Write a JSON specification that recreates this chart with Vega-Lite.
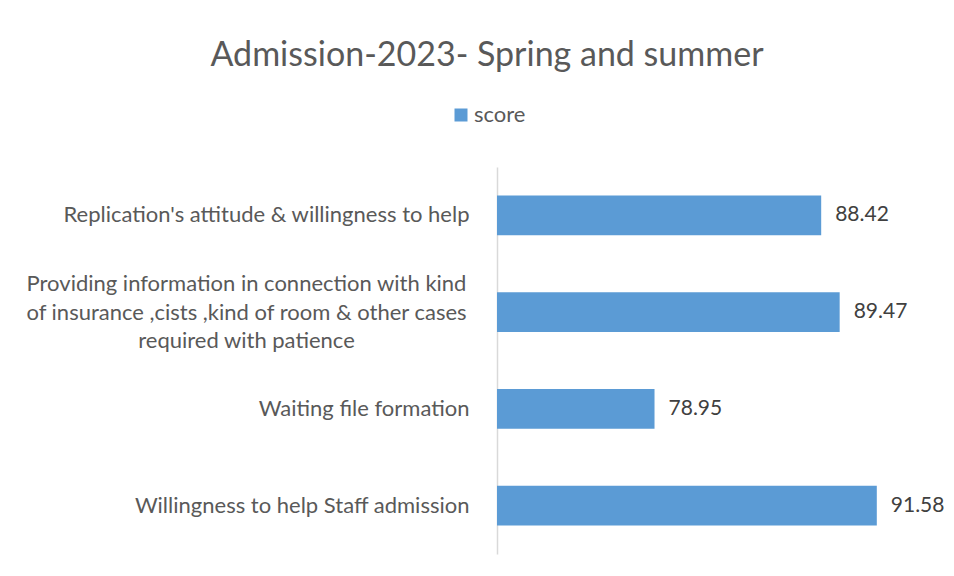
{
  "$schema": "https://vega.github.io/schema/vega-lite/v6.json",
  "width": 440,
  "height": 387,
  "autosize": {"type": "none"},
  "padding": {"left": 497, "top": 167, "right": 17, "bottom": 22},
  "background": "white",
  "title": {
    "text": "Admission-2023- Spring and summer",
    "font": "Lato",
    "fontSize": 34,
    "fontWeight": "normal",
    "color": "#595959",
    "anchor": "middle",
    "frame": "group",
    "dx": -230,
    "offset": 31
  },
  "data": {
    "values": [
      {"item": "Replication's attitude & willingness to help", "series": "score", "score": 88.42},
      {"item": "Providing information in connection with kind\nof insurance ,cists ,kind of room & other cases\nrequired with patience", "series": "score", "score": 89.47},
      {"item": "Waiting file formation", "series": "score", "score": 78.95},
      {"item": "Willingness to help Staff admission", "series": "score", "score": 91.58}
    ]
  },
  "encoding": {
    "y": {
      "field": "item",
      "type": "nominal",
      "sort": null,
      "scale": {"paddingInner": 0.59, "paddingOuter": 0.295},
      "axis": {
        "title": null,
        "ticks": false,
        "domainColor": "#d9d9d9",
        "domainWidth": 1.5,
        "labelFont": "Lato",
        "labelFontSize": 22,
        "labelColor": "#595959",
        "labelLimit": 600,
        "labelLineHeight": 28.5,
        "labelExpr": "split(datum.label, '\\n')",
        "labelAlign": {"condition": {"test": "indexof(datum.value, '\\n') >= 0", "value": "center"}, "value": "right"},
        "labelPadding": {"condition": {"test": "indexof(datum.value, '\\n') >= 0", "value": 251}, "value": 28},
        "labelOffset": {"condition": {"test": "indexof(datum.value, '\\n') >= 0", "value": -28}, "value": 0}
      }
    },
    "x": {
      "field": "score",
      "type": "quantitative",
      "scale": {"domain": [70, 95], "zero": false},
      "axis": null
    }
  },
  "layer": [
    {
      "mark": {"type": "bar", "clip": true},
      "encoding": {
        "color": {
          "field": "series",
          "type": "nominal",
          "scale": {"range": ["#5b9bd5"]},
          "legend": {
            "title": null,
            "orient": "none",
            "legendX": -47,
            "legendY": -63,
            "symbolType": "square",
            "symbolSize": 169,
            "symbolStrokeWidth": 0,
            "labelFont": "Lato",
            "labelFontSize": 22,
            "labelColor": "#595959",
            "labelOffset": 2
          }
        }
      }
    },
    {
      "mark": {"type": "text", "align": "left", "baseline": "middle", "dx": 14, "font": "Lato", "fontSize": 21, "color": "#404040"},
      "encoding": {
        "text": {"field": "score", "type": "quantitative", "format": ".2f"}
      }
    }
  ],
  "config": {
    "view": {"stroke": null}
  }
}
